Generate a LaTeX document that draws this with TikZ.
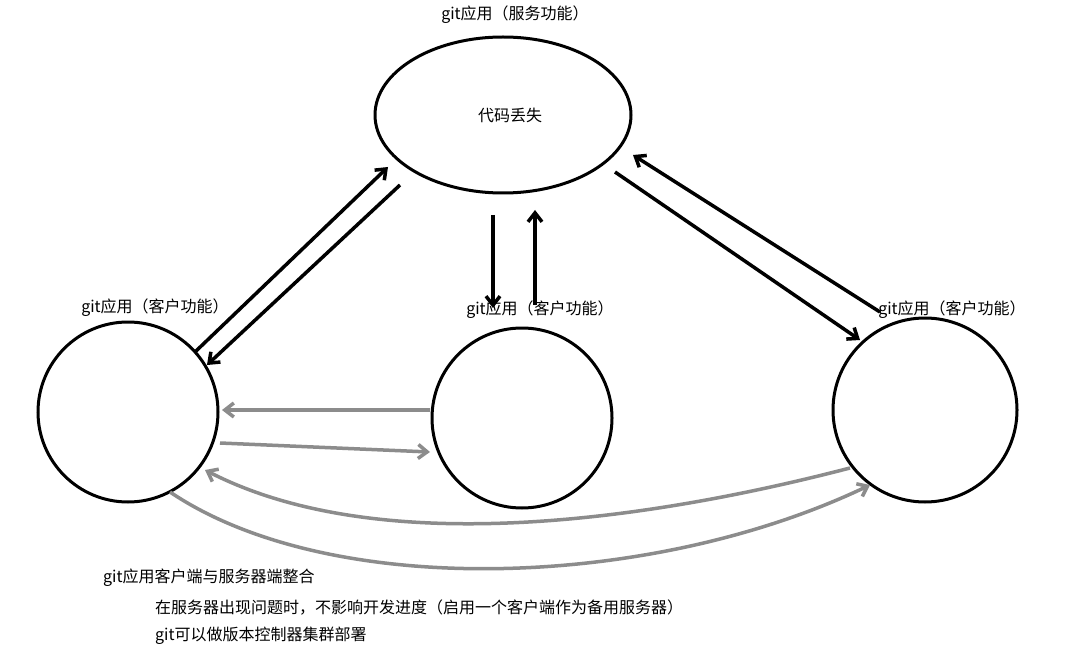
\documentclass[tikz,border=0pt]{standalone}
\usepackage{fontspec}
\setmainfont{Noto Sans CJK SC}
\usetikzlibrary{arrows.meta,shapes.geometric}
\begin{document}
\begin{tikzpicture}[x=1pt,y=-1pt,
  blk/.style={line width=3.5pt,-{Straight Barb[length=9pt,width=14pt]}},
  gry/.style={line width=3.5pt,draw=gray!90,-{Straight Barb[length=9pt,width=14pt]}},
  shp/.style={draw,line width=3pt},
  lbl/.style={font=\fontsize{16}{18}\selectfont,inner sep=0pt}]
\useasboundingbox (0,0) rectangle (1068,655);
\fill[white] (0,0) rectangle (1068,655);
\node[shp,ellipse,minimum width=256pt,minimum height=156pt] (top) at (503,115) {};
\node[shp,circle,minimum size=180pt] (L) at (128,412) {};
\node[shp,circle,minimum size=180pt] (M) at (522,418) {};
\node[shp,circle,minimum size=184pt] (R) at (925,410) {};
\node[lbl] (t0) at (515,15) {git应用（服务功能）};
\node[lbl] (t1) at (510,115) {代码丢失};
\node[lbl] (t2) at (155,308) {git应用（客户功能）};
\node[lbl] (t3) at (540,310) {git应用（客户功能）};
\node[lbl] (t4) at (952,310) {git应用（客户功能）};
\node[lbl,anchor=west] (b1) at (103,578) {git应用客户端与服务器端整合};
\node[lbl,anchor=west] (b2) at (155,608) {在服务器出现问题时，不影响开发进度（启用一个客户端作为备用服务器）};
\node[lbl,anchor=west] (b3) at (155,636) {git可以做版本控制器集群部署};
\coordinate (a1) at (195,352); \coordinate (a2) at (388,167);
\coordinate (a3) at (400,185); \coordinate (a4) at (207,365);
\draw[blk] (a1) -- (a2);
\draw[blk] (a3) -- (a4);
\coordinate (m1) at (493,215); \coordinate (m2) at (493,308);
\coordinate (m3) at (535,305); \coordinate (m4) at (535,210);
\draw[blk] (m1) -- (m2);
\draw[blk] (m3) -- (m4);
\coordinate (r1) at (615,172); \coordinate (r2) at (860,340);
\coordinate (r3) at (880,312); \coordinate (r4) at (633,155);
\draw[blk] (r1) -- (r2);
\draw[blk] (r3) -- (r4);
\coordinate (g1) at (430,410); \coordinate (g2) at (222,410);
\coordinate (g3) at (220,443); \coordinate (g4) at (430,452);
\draw[gry] (g1) -- (g2);
\draw[gry] (g3) -- (g4);
\coordinate (c1) at (850,468); \coordinate (c2) at (205,470);
\coordinate (c3) at (170,492); \coordinate (c4) at (870,485);
\draw[gry] (c1) .. controls (650,520) and (380,560) .. (c2);
\draw[gry] (c3) .. controls (330,600) and (650,590) .. (c4);
\end{tikzpicture}
\end{document}
